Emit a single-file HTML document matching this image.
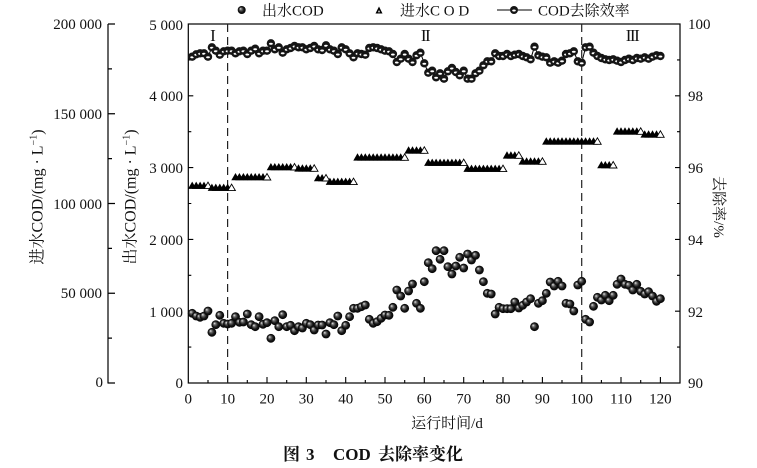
<!DOCTYPE html>
<html><head><meta charset="utf-8"><style>
html,body{margin:0;padding:0;background:#fff;}
svg{display:block;}
.t{font-family:"Liberation Serif","Noto Serif CJK SC",serif;font-size:15px;fill:#111;}
.c{font-family:"Liberation Serif","Noto Serif CJK SC",serif;fill:#111;}
</style></head><body>
<svg width="757" height="468" viewBox="0 0 757 468" xmlns="http://www.w3.org/2000/svg">
<defs>
<radialGradient id="gB" cx="0.5" cy="0.5" r="0.5" fx="0.33" fy="0.33">
<stop offset="0" stop-color="#f2f2f2"/><stop offset="0.3" stop-color="#6a6a6a"/><stop offset="0.65" stop-color="#1a1a1a"/><stop offset="1" stop-color="#000"/>
</radialGradient>
<marker id="mB" markerUnits="userSpaceOnUse" markerWidth="12" markerHeight="12" refX="6" refY="6" overflow="visible"><circle cx="6" cy="6" r="4.4" fill="url(#gB)"/></marker>
<marker id="mE" markerUnits="userSpaceOnUse" markerWidth="12" markerHeight="12" refX="6" refY="6" overflow="visible"><circle cx="6" cy="6" r="4.2" fill="#151515"/><ellipse cx="6" cy="6.5" rx="1.9" ry="1" fill="#fff"/></marker>
<marker id="mT" markerUnits="userSpaceOnUse" markerWidth="12" markerHeight="12" refX="6" refY="6" overflow="visible"><path d="M1.8,9.6 L6,2.3 L10.2,9.6Z" fill="#000"/></marker>
<marker id="mT2" markerUnits="userSpaceOnUse" markerWidth="12" markerHeight="12" refX="6" refY="6" overflow="visible"><path d="M2.2,9.3 L6,2.8 L9.8,9.3Z" fill="#fff" stroke="#000" stroke-width="0.9"/></marker>
</defs>
<rect width="757" height="468" fill="#fff"/>

<!-- influent axis -->
<g stroke="#000" stroke-width="1.2" fill="none">
<line x1="108" y1="24" x2="108" y2="383.5"/>
<path d="M108,24h7M108,113.75h7M108,203.5h7M108,293.25h7M108,383h7M108,68.9h4M108,158.6h4M108,248.4h4M108,338.1h4"/>
</g>
<g class="t" text-anchor="end">
<text x="102" y="29">200 000</text>
<text x="102" y="119">150 000</text>
<text x="102" y="209">100 000</text>
<text x="102" y="298">50 000</text>
<text x="103" y="387">0</text>
</g>

<!-- frame -->
<rect x="188.3" y="24" width="491.7" height="359" fill="none" stroke="#000" stroke-width="1.2"/>
<g stroke="#000" stroke-width="1.1" fill="none">
<path d="M188.3,311.2h5M188.3,239.4h5M188.3,167.6h5M188.3,95.8h5M188.3,347.1h3M188.3,275.3h3M188.3,203.5h3M188.3,131.7h3M188.3,59.9h3"/>
<path d="M680,311.2h-5M680,239.4h-5M680,167.6h-5M680,95.8h-5M680,347.1h-3M680,275.3h-3M680,203.5h-3M680,131.7h-3M680,59.9h-3"/>
<path d="M227.6,383v-6M267,383v-6M306.3,383v-6M345.7,383v-6M385,383v-6M424.3,383v-6M463.7,383v-6M503,383v-6M542.4,383v-6M581.7,383v-6M621,383v-6M660.4,383v-6"/>
<path d="M208,383v-3M247.3,383v-3M286.7,383v-3M326,383v-3M365.3,383v-3M404.7,383v-3M444,383v-3M483.4,383v-3M522.7,383v-3M562,383v-3M601.4,383v-3M640.7,383v-3"/>
</g>
<g class="t" text-anchor="end">
<text x="183" y="30">5 000</text>
<text x="183" y="101">4 000</text>
<text x="183" y="173">3 000</text>
<text x="183" y="245">2 000</text>
<text x="183" y="317">1 000</text>
<text x="183" y="388">0</text>
</g>
<g class="t">
<text x="688" y="29">100</text>
<text x="688" y="101">98</text>
<text x="688" y="173">96</text>
<text x="688" y="245">94</text>
<text x="688" y="317">92</text>
<text x="688" y="388">90</text>
</g>
<g class="t" text-anchor="middle">
<text x="188.3" y="403.5">0</text>
<text x="227.6" y="403.5">10</text>
<text x="267" y="403.5">20</text>
<text x="306.3" y="403.5">30</text>
<text x="345.7" y="403.5">40</text>
<text x="385" y="403.5">50</text>
<text x="424.3" y="403.5">60</text>
<text x="463.7" y="403.5">70</text>
<text x="503" y="403.5">80</text>
<text x="542.4" y="403.5">90</text>
<text x="581.7" y="403.5">100</text>
<text x="621" y="403.5">110</text>
<text x="660.4" y="403.5">120</text>
</g>

<!-- dashed dividers -->
<g stroke="#222" stroke-width="1.2" stroke-dasharray="8,5">
<line x1="227.6" y1="24" x2="227.6" y2="383"/>
<line x1="581.7" y1="24" x2="581.7" y2="383"/>
</g>

<!-- phase labels -->
<g class="c" font-size="17" text-anchor="middle">
<text x="213" y="41">I</text>
<text x="425" y="41" letter-spacing="-1.5">II</text>
<text x="632" y="41" letter-spacing="-1.5">III</text>
</g>

<!-- influent triangles -->
<g fill="none" stroke="none" marker-start="url(#mT)" marker-mid="url(#mT)" marker-end="url(#mT2)">
<polyline points="192.2,185.3 196.2,185.3 200.1,185.3 204.0,185.3 208.0,185.3"/>
<polyline points="211.9,187.3 215.8,187.3 219.8,187.3 223.7,187.3 227.6,187.3 231.6,187.3"/>
<polyline points="235.5,176.7 239.4,176.7 243.4,176.7 247.3,176.7 251.2,176.7 255.2,176.7 259.1,176.7 263.0,176.7 267.0,176.7"/>
<polyline points="270.9,166.7 274.8,166.7 278.8,166.7 282.7,166.7 286.7,166.7 290.6,166.7 294.5,166.7"/>
<polyline points="298.5,168 302.4,168 306.3,168 310.3,168 314.2,168"/>
<polyline points="318.1,177.7 322.1,177.7 326.0,177.7"/>
<polyline points="329.9,181.3 333.9,181.3 337.8,181.3 341.7,181.3 345.7,181.3 349.6,181.3 353.5,181.3"/>
<polyline points="357.5,157 361.4,157 365.3,157 369.3,157 373.2,157 377.1,157 381.1,157 385.0,157 389.0,157 392.9,157 396.8,157 400.7,157 404.7,157"/>
<polyline points="408.6,150 412.5,150 416.5,150 420.4,150 424.3,150"/>
<polyline points="428.3,162.3 432.2,162.3 436.1,162.3 440.1,162.3 444.0,162.3 447.9,162.3 451.9,162.3 455.8,162.3 459.7,162.3 463.7,162.3"/>
<polyline points="467.6,168.3 471.5,168.3 475.5,168.3 479.4,168.3 483.4,168.3 487.3,168.3 491.2,168.3 495.2,168.3 499.1,168.3 503.0,168.3"/>
<polyline points="507.0,155 510.9,155 514.8,155 518.8,155"/>
<polyline points="522.7,161 526.6,161 530.6,161 534.5,161 538.4,161 542.4,161"/>
<polyline points="546.3,141 550.2,141 554.2,141 558.1,141 562.0,141 566.0,141 569.9,141 573.8,141 577.8,141 581.7,141 585.6,141 589.6,141 593.5,141 597.4,141"/>
<polyline points="601.4,164.7 605.3,164.7 609.2,164.7 613.2,164.7"/>
<polyline points="617.1,131 621.0,131 625.0,131 628.9,131 632.8,131 636.8,131 640.7,131"/>
<polyline points="644.7,134 648.6,134 652.5,134 656.5,134 660.4,134"/>
</g>

<!-- removal efficiency -->
<polyline fill="none" stroke="#000" stroke-width="1" marker-start="url(#mE)" marker-mid="url(#mE)" marker-end="url(#mE)" points="192.2,56.7 196.2,54.3 200.1,53.3 204.0,53.3 208.0,56.7 211.9,47.3 215.8,50.7 219.8,54.7 223.7,51.3 227.6,50.7 231.6,50.7 235.5,53.3 239.4,51.3 243.4,50.7 247.3,54 251.2,50.7 255.2,48.7 259.1,53.3 263.0,50.7 267.0,50.7 270.9,43.3 274.8,49.3 278.8,47.3 282.7,52.7 286.7,49.3 290.6,48 294.5,46 298.5,47.3 302.4,47.3 306.3,49.3 310.3,48 314.2,46 318.1,49.3 322.1,50 326.0,45.3 329.9,49.3 333.9,50.7 337.8,54 341.7,47.3 345.7,49.3 349.6,53.3 353.5,57.3 357.5,53.3 361.4,54 365.3,54.7 369.3,48 373.2,47.3 377.1,48 381.1,49.3 385.0,50.7 389.0,51.3 392.9,54 396.8,62 400.7,58.7 404.7,54 408.6,58.7 412.5,62 416.5,55.3 420.4,52.7 424.3,63.3 428.3,72.7 432.2,70.7 436.1,77.3 440.1,73.3 444.0,78.7 447.9,71.3 451.9,68 455.8,72 459.7,75.3 463.7,70.7 467.6,78.7 471.5,78.7 475.5,73.3 479.4,70.7 483.4,65.3 487.3,61.3 491.2,61.3 495.2,53.3 499.1,56 503.0,56 507.0,54 510.9,56 514.8,54.7 518.8,54 522.7,56 526.6,57.3 530.6,59.3 534.5,46.7 538.4,55.3 542.4,56.7 546.3,57.3 550.2,62.7 554.2,61.3 558.1,62.7 562.0,60.7 566.0,54 569.9,53.3 573.8,51.3 577.8,61.3 581.7,62.7 585.6,47.3 589.6,46.7 593.5,52.7 597.4,56 601.4,58 605.3,59.3 609.2,60 613.2,59.3 617.1,60.7 621.0,62 625.0,60 628.9,58.7 632.8,60 636.8,58 640.7,58.7 644.7,57.3 648.6,58.7 652.5,56.7 656.5,55.3 660.4,56"/>

<!-- effluent COD -->
<polyline fill="none" stroke="none" marker-start="url(#mB)" marker-mid="url(#mB)" marker-end="url(#mB)" points="192.2,313.3 196.2,316 200.1,317.3 204.0,316 208.0,311 211.9,332.3 215.8,324.7 219.8,315.3 223.7,323.3 227.6,324 231.6,323.3 235.5,316.7 239.4,322.3 243.4,322 247.3,314 251.2,324.7 255.2,326.7 259.1,316.7 263.0,324.3 267.0,322.7 270.9,338.3 274.8,320.7 278.8,326.7 282.7,314.7 286.7,326.7 290.6,325.3 294.5,330.7 298.5,326.7 302.4,328 306.3,323.3 310.3,324.7 314.2,330 318.1,325 322.1,325 326.0,334 329.9,322.7 333.9,324.7 337.8,316 341.7,330.7 345.7,325.3 349.6,316.7 353.5,308.3 357.5,308.3 361.4,306.7 365.3,305 369.3,319.3 373.2,323.3 377.1,321.7 381.1,318.3 385.0,315 389.0,315.3 392.9,307.3 396.8,290 400.7,296 404.7,308.3 408.6,291 412.5,284 416.5,303.3 420.4,308.3 424.3,281.7 428.3,262.7 432.2,268.7 436.1,250.7 440.1,259.3 444.0,250.7 447.9,266.7 451.9,274 455.8,266 459.7,257.3 463.7,268 467.6,254 471.5,260 475.5,255.3 479.4,270 483.4,281.7 487.3,293.3 491.2,294 495.2,314 499.1,307.3 503.0,308.7 507.0,308.7 510.9,308.7 514.8,302 518.8,308 522.7,305.3 526.6,302 530.6,298.7 534.5,326.7 538.4,303.3 542.4,300.7 546.3,293.3 550.2,282 554.2,286 558.1,281.3 562.0,286 566.0,303.3 569.9,304 573.8,311 577.8,285 581.7,281.3 585.6,319.3 589.6,322 593.5,306.3 597.4,297.3 601.4,300 605.3,295.3 609.2,300.7 613.2,295.3 617.1,284.3 621.0,279 625.0,284.3 628.9,285.3 632.8,290 636.8,284.3 640.7,291.3 644.7,294 648.6,291.7 652.5,296 656.5,301.3 660.4,298.7"/>

<!-- legend -->
<circle cx="241.7" cy="10" r="4" fill="url(#gB)"/>
<text class="t" x="262" y="15.5">出水COD</text>
<path d="M375.5,13.5 L379,6.5 L382.5,13.5Z" fill="#000"/>
<path d="M378,12.2 L379,10 L380,12.2Z" fill="#fff"/>
<text class="t" x="400" y="15.5" letter-spacing="0">进水C O D</text>
<line x1="497" y1="10" x2="532" y2="10" stroke="#000" stroke-width="1.1"/>
<circle cx="514" cy="10" r="4" fill="#151515"/>
<ellipse cx="514" cy="10.5" rx="1.8" ry="1" fill="#fff"/>
<text class="t" x="538" y="15.5">COD去除效率</text>

<!-- axis titles -->
<text class="c" font-size="16" text-anchor="middle" transform="translate(42.5,197) rotate(-90)">进水COD/(mg · L<tspan font-size="10" dy="-6">−1</tspan><tspan dy="6">)</tspan></text>
<text class="c" font-size="16" text-anchor="middle" transform="translate(135.5,197) rotate(-90)">出水COD/(mg · L<tspan font-size="10" dy="-6">−1</tspan><tspan dy="6">)</tspan></text>
<text class="c" font-size="15" text-anchor="middle" transform="translate(714,207) rotate(90)">去除率/%</text>
<text class="c" font-size="15" x="447" y="428" text-anchor="middle">运行时间/d</text>

<!-- caption -->
<g class="c" font-size="17" font-weight="bold">
<text x="283" y="460">图</text>
<text x="306" y="460">3</text>
<text x="333" y="460">COD</text>
<text x="378" y="460">去除率变化</text>
</g>
</svg>
</body></html>
